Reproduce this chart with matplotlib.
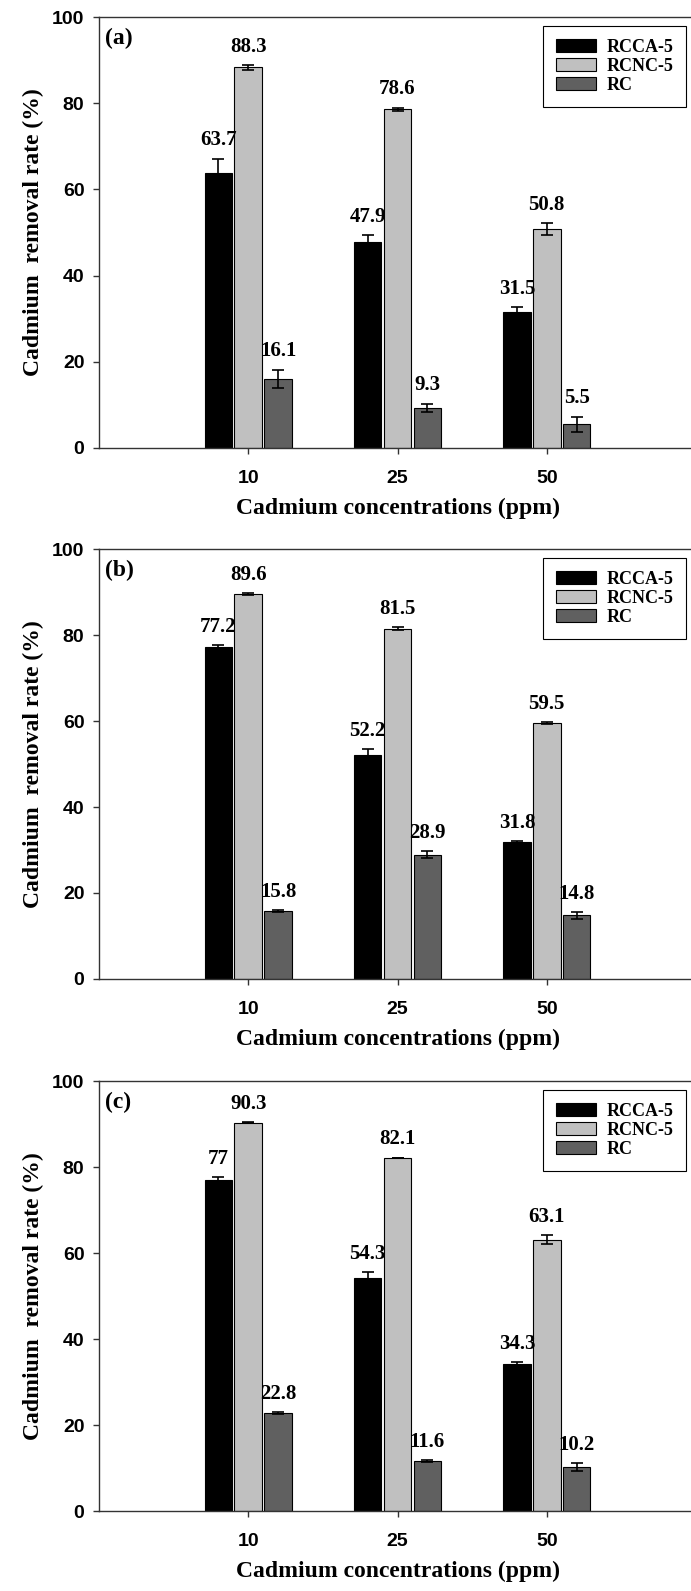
import numpy as np
import matplotlib.pyplot as plt

# Cadmium removal (%) for three adsorbents at three initial concentrations
conc = ['10', '25', '50']
series = ['RCCA-5', 'RCNC-5', 'RC']
panels = ['(a)', '(b)', '(c)']

rcca_a = [63.7, 47.9, 31.5]
rcnc_a = [88.3, 78.6, 50.8]
rc_a = [16.1, 9.3, 5.5]
rcca_a_err = [3.4, 1.5, 1.2]
rcnc_a_err = [0.5, 0.4, 1.3]
rc_a_err = [2.1, 1.0, 1.8]

rcca_b = [77.2, 52.2, 31.8]
rcnc_b = [89.6, 81.5, 59.5]
rc_b = [15.8, 28.9, 14.8]
rcca_b_err = [0.5, 1.3, 0.2]
rcnc_b_err = [0.2, 0.3, 0.2]
rc_b_err = [0.2, 0.8, 0.8]

rcca_c = [77.0, 54.3, 34.3]
rcnc_c = [90.3, 82.1, 63.1]
rc_c = [22.8, 11.6, 10.2]
rcca_c_err = [0.6, 1.2, 0.3]
rcnc_c_err = [0.1, 0.1, 1.1]
rc_c_err = [0.2, 0.2, 0.9]

data = [
    ([rcca_a, rcnc_a, rc_a], [rcca_a_err, rcnc_a_err, rc_a_err]),
    ([rcca_b, rcnc_b, rc_b], [rcca_b_err, rcnc_b_err, rc_b_err]),
    ([rcca_c, rcnc_c, rc_c], [rcca_c_err, rcnc_c_err, rc_c_err]),
]

colors = ['#000000', '#c0c0c0', '#606060']
serif = 'Liberation Serif'
sans = 'Liberation Sans'

W, H = 691, 1591
fig = plt.figure(figsize=(W / 100, H / 100), dpi=100)

# axes boxes in pixels: (left, top, bottom)
boxes = [(99, 17, 448), (99, 549, 979), (99, 1081, 1511)]
right_px = 696

x = np.arange(1, len(conc) + 1)
width = 0.185
step = 0.2

for (vals, errs), lab, (l, t, b) in zip(data, panels, boxes):
    ax = fig.add_axes([l / W, 1 - b / H, (right_px - l) / W, (b - t) / H])
    for i, (v, e) in enumerate(zip(vals, errs)):
        pos = x + (i - 1) * step
        ax.bar(pos, v, width, color=colors[i], edgecolor='black',
               linewidth=0.8, label=series[i], zorder=2)
        ax.errorbar(pos, v, yerr=e, fmt='none', ecolor='black',
                    elinewidth=1.2, capsize=4.5, capthick=1.2, zorder=3)
        for px, vv, ee in zip(pos, v, e):
            ax.annotate(f'{vv:g}', xy=(px, vv + ee), xytext=(0, 6),
                        textcoords='offset points', ha='center', va='bottom',
                        fontsize=15, fontweight='bold', family=serif)

    ax.set_xlim(0, 4)
    ax.set_ylim(0, 100)
    ax.set_yticks(np.arange(0, 101, 20))
    ax.set_xticks(x)
    ax.set_xticklabels(conc)
    ax.tick_params(axis='both', direction='out', length=4.5, width=1.0,
                   colors='#333333', labelcolor='black')
    ax.tick_params(axis='x', pad=11)
    ax.tick_params(axis='y', pad=6)
    for tl in ax.get_xticklabels() + ax.get_yticklabels():
        tl.set_fontfamily(sans)
        tl.set_fontweight('bold')
        tl.set_fontsize(14)

    ax.spines['right'].set_visible(False)
    for s in ['left', 'top', 'bottom']:
        ax.spines[s].set_linewidth(1.0)
        ax.spines[s].set_color('#333333')

    ax.set_xlabel('Cadmium concentrations (ppm)', fontsize=17,
                  fontweight='bold', family=serif, labelpad=8)
    ax.set_ylabel('Cadmium  removal rate (%)', fontsize=17,
                  fontweight='bold', family=serif, labelpad=6)

    ax.text(0.01, 0.975, lab, transform=ax.transAxes, ha='left', va='top',
            fontsize=17, fontweight='bold', family=serif)

    leg = ax.legend(loc='upper right',
                    bbox_to_anchor=((686 - l) / (right_px - l), 1 - 9 / (b - t)),
                    borderaxespad=0, frameon=True, fancybox=False,
                    edgecolor='black', framealpha=1, labelspacing=0.12,
                    handlelength=2.2, handleheight=0.7, handletextpad=0.6,
                    borderpad=0.7,
                    prop={'family': serif, 'weight': 'bold', 'size': 13})
    leg.get_frame().set_linewidth(0.8)

fig.savefig('out.png', dpi=100)
